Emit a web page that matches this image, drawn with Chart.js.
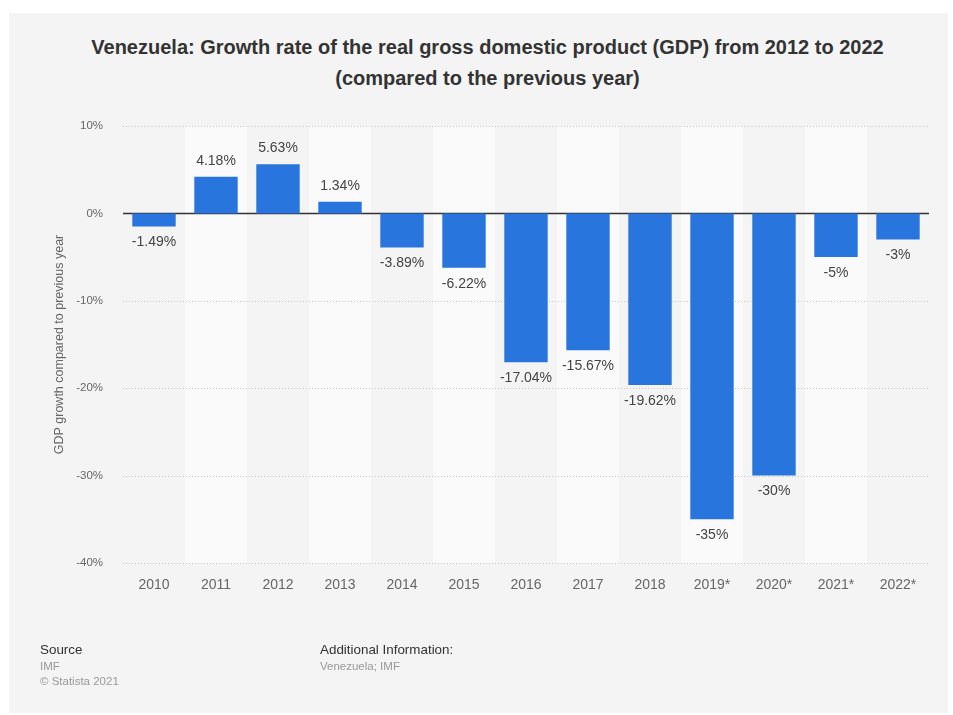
<!DOCTYPE html>
<html>
<head>
<meta charset="utf-8">
<script src="https://cdn.jsdelivr.net/npm/chart.js@4"></script>
<style>
    html, body { margin: 0; padding: 0; background: #fff; }
    body { width: 953px; height: 715px; position: relative; overflow: hidden; font-family: "Liberation Sans", Arial, sans-serif; }
    .card { position: absolute; left: 9px; top: 13px; width: 939px; height: 700px; background: #f4f4f4; }
    .chart-wrap { position: absolute; left: 0; top: 0; width: 953px; height: 715px; }
    .title { position: absolute; left: 11px; width: 953px; top: 32px; text-align: center; font-weight: bold; font-size: 20px; line-height: 31px; color: #333; }
    .foot { position: absolute; font-size: 11.5px; line-height: 15.5px; color: #999; }
    .foot b { font-weight: normal; color: #333; font-size: 13.4px; }
</style>
</head>
<body>
<div class="card"></div>
<div class="title">Venezuela: Growth rate of the real gross domestic product (GDP) from 2012 to 2022<br>(compared to the previous year)</div>
<div class="chart-wrap"><canvas id="gdpChart" width="953" height="715"></canvas></div>
<div class="foot" style="left:40px; top:642px;"><b>Source</b><br>IMF<br>© Statista 2021</div>
<div class="foot" style="left:320px; top:642px;"><b>Additional Information:</b><br>Venezuela; IMF</div>

<script>
// Data
const years = ['2010', '2011', '2012', '2013', '2014', '2015', '2016', '2017', '2018', '2019*', '2020*', '2021*', '2022*'];
const growth = [-1.49, 4.18, 5.63, 1.34, -3.89, -6.22, -17.04, -15.67, -19.62, -35, -30, -5, -3];
const yTicks = [10, 0, -10, -20, -30, -40];

const barColor = '#2876dd';
const fontFamily = '"Liberation Sans", Arial, sans-serif';

// Light bands behind every other column, plus dotted grid and zero line
const bandPlugin = {
    id: 'bands',
    beforeDatasetsDraw(chart) {
        const { ctx, chartArea, scales } = chart;
        const x = scales.x;
        const step = chartArea.width / years.length;
        ctx.save();
        ctx.fillStyle = '#fafafa';
        years.forEach((y, i) => {
            if (i % 2 === 1) {
                const cx = x.getPixelForValue(i);
                ctx.fillRect(cx - step / 2, chartArea.top, step, chartArea.height);
            }
        });
        const yScale = scales.y;
        yTicks.forEach(v => {
            const py = Math.round(yScale.getPixelForValue(v)) + 0.5;
            ctx.beginPath();
            if (v === 0) {
                ctx.setLineDash([]);
                ctx.strokeStyle = '#333';
                ctx.lineWidth = 1.3;
            } else {
                ctx.setLineDash([1, 2]);
                ctx.strokeStyle = '#c8c8c8';
                ctx.lineWidth = 1;
            }
            ctx.moveTo(chartArea.left, py);
            ctx.lineTo(chartArea.right, py);
            ctx.stroke();
        });
        ctx.restore();
    }
};

// Value labels above / below each bar
const valueLabels = {
    id: 'valueLabels',
    afterDatasetsDraw(chart) {
        const { ctx } = chart;
        const meta = chart.getDatasetMeta(0);
        ctx.save();
        ctx.font = '14px ' + fontFamily;
        ctx.fillStyle = '#444';
        ctx.textAlign = 'center';
        ctx.textBaseline = 'middle';
        meta.data.forEach((bar, i) => {
            const v = growth[i];
            const y = v >= 0 ? bar.y - 16 : bar.y + 16;
            ctx.fillText(v + '%', bar.x, y);
        });
        ctx.restore();
    }
};

const ctx = document.getElementById('gdpChart').getContext('2d');
const gdpChart = new Chart(ctx, {
    type: 'bar',
    data: {
        labels: years,
        datasets: [{
            data: growth,
            backgroundColor: barColor,
            borderWidth: 0,
            categoryPercentage: 1,
            barPercentage: 0.7
        }]
    },
    options: {
        responsive: false,
        animation: false,
        devicePixelRatio: 1,
        layout: { padding: { left: 40, top: 126, right: 24, bottom: 112 } },
        plugins: {
            legend: { display: false },
            tooltip: { enabled: false }
        },
        scales: {
            x: {
                grid: { display: false },
                border: { display: false },
                ticks: {
                    color: '#666',
                    font: { family: fontFamily, size: 14 },
                    padding: 6,
                    maxRotation: 0
                },
                afterFit(scale) { scale.height = 40; }
            },
            y: {
                min: -40,
                max: 10,
                grid: { display: false },
                border: { display: false },
                ticks: {
                    stepSize: 10,
                    color: '#666',
                    font: { family: fontFamily, size: 11.5 },
                    padding: 12,
                    callback: (v) => v + '%'
                },
                title: {
                    display: true,
                    text: 'GDP growth compared to previous year',
                    color: '#666',
                    font: { family: fontFamily, size: 12.5 },
                    padding: { top: 12, bottom: 0 }
                },
                afterFit(scale) { scale.width = 83; }
            }
        }
    },
    plugins: [bandPlugin, valueLabels]
});
</script>
</body>
</html>
